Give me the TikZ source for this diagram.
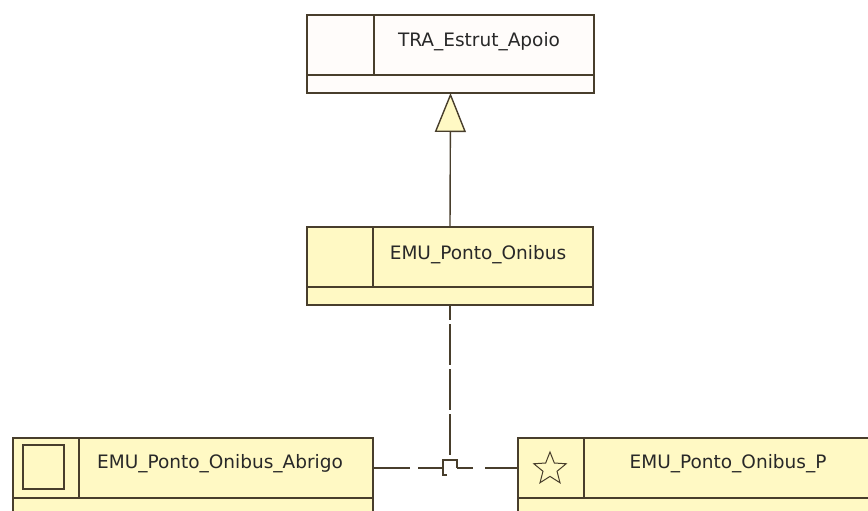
\documentclass[tikz,border=0pt]{standalone}
\usepackage{fontspec}
\setmainfont{DejaVu Sans}
\usetikzlibrary{arrows.meta,calc,positioning,shapes.geometric}
\definecolor{classfill}{RGB}{255,249,196}
\definecolor{rootfill}{RGB}{255,252,250}
\definecolor{classline}{RGB}{72,62,44}
\definecolor{classtext}{RGB}{40,40,40}
\tikzstyle{classbox}  = [draw=classline,line width=1.6pt,anchor=north west,
                         inner sep=0pt,outer sep=0pt,minimum height=78pt]
\tikzstyle{classname} = [anchor=base,inner sep=0pt,text=classtext,
                         font=\fontsize{18.5}{22}\selectfont]
\tikzstyle{divider}   = [draw=classline,line width=1.4pt]
\tikzstyle{link}      = [draw=classline,line width=1.4pt]

\begin{document}
\begin{tikzpicture}[x=1pt,y=-1pt]
        \useasboundingbox (0,0) rectangle (868,511);
        \clip (0,0) rectangle (868,511);

        % Superclass
        \node[classbox,fill=rootfill,minimum width=287pt] (estrut) at (307,15) {};
        \draw[divider] ($(estrut.north west)+(67,0)$) -- ($(estrut.south west)+(67,-18)$);
        \draw[divider] ($(estrut.south west)+(0,-18)$) -- ($(estrut.south east)+(0,-18)$);
        \node[classname] (estrut-name) at ($(estrut.north west)+(172,32)$) {TRA\_Estrut\_Apoio};

        % Subclass
        \node[classbox,fill=classfill,minimum width=286pt] (ponto) at (307,227) {};
        \draw[divider] ($(ponto.north west)+(66,0)$) -- ($(ponto.south west)+(66,-18)$);
        \draw[divider] ($(ponto.south west)+(0,-18)$) -- ($(ponto.south east)+(0,-18)$);
        \node[classname] (ponto-name) at ($(ponto.north west)+(171,32)$) {EMU\_Ponto\_Onibus};

        % Abrigo
        \node[classbox,fill=classfill,minimum width=360pt] (abrigo) at (13,438) {};
        \draw[divider] ($(abrigo.north west)+(66,0)$) -- ($(abrigo.south west)+(66,-18)$);
        \draw[divider] ($(abrigo.south west)+(0,-18)$) -- ($(abrigo.south east)+(0,-18)$);
        \node[draw=classline,line width=1.4pt,minimum width=41pt,minimum height=44pt,
              inner sep=0pt] (abrigo-icon) at ($(abrigo.north west)+(30.5,29)$) {};
        \node[classname] (abrigo-name) at ($(abrigo.north west)+(207,30)$) {EMU\_Ponto\_Onibus\_Abrigo};

        % Ponto P
        \node[classbox,fill=classfill,minimum width=360pt] (pontop) at (518,438) {};
        \draw[divider] ($(pontop.north west)+(66,0)$) -- ($(pontop.south west)+(66,-18)$);
        \draw[divider] ($(pontop.south west)+(0,-18)$) -- ($(pontop.south east)+(0,-18)$);
        \node[star,star points=5,star point ratio=2.3,minimum size=34pt,inner sep=0pt,
              draw=classline,line width=1pt] (pontop-icon) at ($(pontop.north west)+(32,31)$) {};
        \node[classname] (pontop-name) at ($(pontop.north west)+(210,30)$) {EMU\_Ponto\_Onibus\_P};

        % Generalization
        \draw[link,-{Triangle[open,length=39pt,width=31pt,fill=classfill]}] (ponto.north) -- (estrut.south);

        % Dependency
        \coordinate (junc) at ($(ponto.south |- abrigo.north)+(0,30)$);
        \draw[link,dash pattern=on 41pt off 4pt,dash phase=26pt] (ponto.south) -- ($(junc)+(0,-8)$);
        \draw[link] ($(junc)+(-3,7)$) -- ($(junc)+(-7,7)$) -- ($(junc)+(-7,-8)$)
              -- ($(junc)+(7,-8)$) -- ($(junc)+(7,0)$);
        \draw[link,dash pattern=on 37pt off 8pt] ($(abrigo.north east)+(0,30)$) -- ($(junc)+(-7,0)$);
        \draw[link,dash pattern=on 16pt off 12pt on 40pt off 1pt] ($(junc)+(7,0)$) -- ($(pontop.north west)+(0,30)$);
    \end{tikzpicture}
\end{document}
